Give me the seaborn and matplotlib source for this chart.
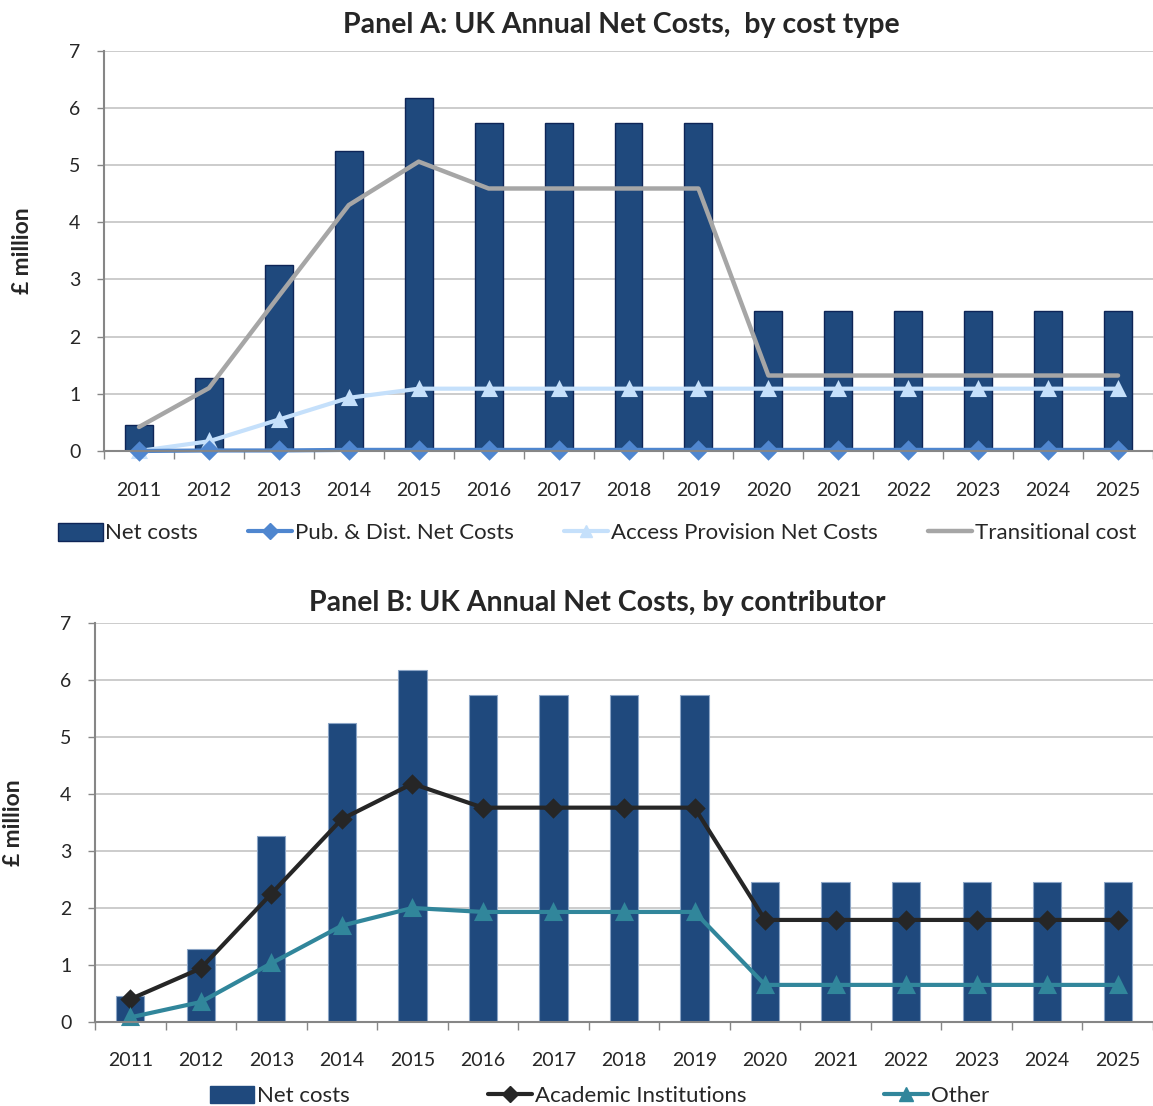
import numpy as np
import pandas as pd
import matplotlib
matplotlib.use("Agg")
import matplotlib.pyplot as plt
from matplotlib.lines import Line2D
from matplotlib.patches import Patch
import seaborn as sns

# ---------------- data ----------------
years = [str(y) for y in range(2011, 2026)]
net_costs = [0.46, 1.28, 3.26, 5.25, 6.18, 5.73, 5.73, 5.73, 5.73,
             2.45, 2.45, 2.45, 2.45, 2.45, 2.45]
pub_dist = [0.0, 0.01, 0.01, 0.02, 0.02, 0.02, 0.02, 0.02, 0.02,
            0.02, 0.02, 0.02, 0.02, 0.02, 0.02]
access_prov = [0.0, 0.17, 0.55, 0.93, 1.09, 1.09, 1.09, 1.09, 1.09,
               1.09, 1.09, 1.09, 1.09, 1.09, 1.09]
transitional = [0.42, 1.10, 2.71, 4.30, 5.06, 4.59, 4.59, 4.59, 4.59,
                1.32, 1.32, 1.32, 1.32, 1.32, 1.32]
academic = [0.40, 0.94, 2.25, 3.56, 4.18, 3.76, 3.76, 3.76, 3.76,
            1.79, 1.79, 1.79, 1.79, 1.79, 1.79]
other = [0.08, 0.35, 1.03, 1.69, 2.00, 1.93, 1.93, 1.93, 1.93,
         0.65, 0.65, 0.65, 0.65, 0.65, 0.65]
y_ticks = [0, 1, 2, 3, 4, 5, 6, 7]

title_a = "Panel A: UK Annual Net Costs,  by cost type"
title_b = "Panel B: UK Annual Net Costs, by contributor"
ylabel = "£ million"

# ---------------- style ----------------
sns.set_theme(style="white")
plt.rcParams['font.family'] = ['Lato', 'DejaVu Sans']

BAR = "#1F497D"
C_PUB = "#4F86CF"
C_ACC = "#C5E0FB"
C_TRANS = "#A6A6A6"
C_ACAD = "#262626"
C_OTHER = "#31869B"
GRID = "#C8C8C8"
SPINE = "#868686"
FS = 14
FS_LEG = 16

df = pd.DataFrame({"year": years, "net": net_costs, "pub": pub_dist,
                   "acc": access_prov, "trans": transitional,
                   "acad": academic, "other": other})

fig = plt.figure(figsize=(11.53, 11.06), dpi=100)
ax_a = fig.add_axes([0.0902, 0.5922, 0.9098, 0.3620])
ax_b = fig.add_axes([0.0824, 0.0760, 0.9176, 0.3607])


def style_axes(ax):
    ax.set_xlim(-0.5, len(years) - 0.5)
    ax.set_ylim(0, 7)
    ax.set_yticks(y_ticks)
    ax.set_yticklabels([str(t) for t in y_ticks], fontsize=FS)
    ax.set_xticks(range(len(years)))
    ax.set_xticklabels(years, fontsize=FS)
    ax.set_xticks(np.arange(-0.5, len(years), 1.0), minor=True)
    ax.tick_params(axis='x', which='major', length=0, pad=22)
    ax.tick_params(axis='x', which='minor', length=6, width=1, color=SPINE,
                   direction='out', bottom=True)
    ax.tick_params(axis='y', which='major', length=5, width=1, color=SPINE,
                   direction='out', left=True, pad=12)
    ax.grid(axis='y', color=GRID, linewidth=1.3)
    ax.grid(axis='x', visible=False)
    ax.set_axisbelow(True)
    for s in ['top', 'right']:
        ax.spines[s].set_visible(False)
    for s in ['left', 'bottom']:
        ax.spines[s].set_color(SPINE)
        ax.spines[s].set_linewidth(1.5)
    ax.set_xlabel("")
    ax.set_ylabel(ylabel, fontsize=16.5, fontweight='bold', labelpad=26)
    for ln in ax.lines:
        ln.set_clip_on(False)


# ---------------- Panel A ----------------
sns.barplot(data=df, x="year", y="net", color=BAR, width=0.4,
            edgecolor="#0E2557", linewidth=1.0, saturation=1, ax=ax_a)
sns.pointplot(data=df, x="year", y="trans", color=C_TRANS, markers="none",
              errorbar=None, linewidth=3.2, ax=ax_a)
sns.pointplot(data=df, x="year", y="acc", color=C_ACC, markers="^",
              errorbar=None, linewidth=3.0, markersize=9, ax=ax_a)
sns.pointplot(data=df, x="year", y="pub", color=C_PUB, markers="D",
              errorbar=None, linewidth=3.0, markersize=8, ax=ax_a)
style_axes(ax_a)

handles_a = [
    Patch(facecolor=BAR, edgecolor="#0E2557", linewidth=1.0),
    Line2D([], [], color=C_PUB, marker="D", lw=3, markersize=8),
    Line2D([], [], color=C_ACC, marker="^", lw=3, markersize=9),
    Line2D([], [], color=C_TRANS, lw=3.2),
]
labels_a = ["Net costs", "Pub. & Dist. Net Costs",
            "Access Provision Net Costs", "Transitional cost"]
fig.legend(handles_a, labels_a, loc='center', bbox_to_anchor=(0.518, 0.518),
           ncol=4, frameon=False, fontsize=FS_LEG, handlelength=2.0,
           handletextpad=0.12, columnspacing=2.25, handleheight=0.85)

fig.text(0.539, 0.977, title_a, ha='center', va='center', fontsize=20.5,
         fontweight='bold')

# ---------------- Panel B ----------------
sns.barplot(data=df, x="year", y="net", color=BAR, width=0.4,
            edgecolor="#8CA5C6", linewidth=0.8, saturation=1, ax=ax_b)
sns.pointplot(data=df, x="year", y="acad", color=C_ACAD, markers="D",
              errorbar=None, linewidth=3.0, markersize=8, ax=ax_b)
sns.pointplot(data=df, x="year", y="other", color=C_OTHER, markers="^",
              errorbar=None, linewidth=3.0, markersize=10, ax=ax_b)
style_axes(ax_b)

handles_b = [
    Patch(facecolor=BAR, edgecolor=BAR),
    Line2D([], [], color=C_ACAD, marker="D", lw=3, markersize=8),
    Line2D([], [], color=C_OTHER, marker="^", lw=3, markersize=10),
]
labels_b = ["Net costs", "Academic Institutions", "Other"]
fig.legend(handles_b, labels_b, loc='center', bbox_to_anchor=(0.52, 0.009),
           ncol=3, frameon=False, fontsize=FS_LEG, handlelength=2.0,
           handletextpad=0.12, columnspacing=6.2, handleheight=0.85)

fig.text(0.518, 0.455, title_b, ha='center', va='center', fontsize=20.5,
         fontweight='bold')

fig.savefig("out.png", dpi=100)
